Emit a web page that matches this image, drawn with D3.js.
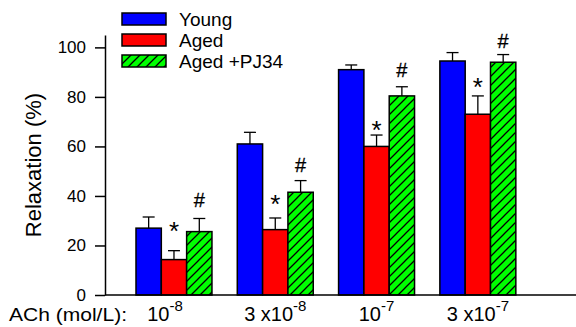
<!DOCTYPE html>
<html>
<head>
<meta charset="utf-8">
<script src="https://cdn.jsdelivr.net/npm/d3@7"></script>
<style>
  body { margin: 0; background: #fff; }
  svg { display: block; font-family: Arial, "Liberation Sans", sans-serif; }
</style>
</head>
<body>
<svg id="chart" width="576" height="327"></svg>
<script>
// data
var groups = ["1e-8", "3e-8", "1e-7", "3e-7"];
var tickBase = ["10", "3 x10", "10", "3 x10"];
var tickExp = ["-8", "-8", "-7", "-7"];
var series = ["Young", "Aged", "Aged +PJ34"];
var young = [27, 61, 91, 94.5];
var youngErr = [4.5, 4.7, 1.9, 3.4];
var aged = [14.3, 26.4, 60, 73];
var agedErr = [3.6, 4.7, 4.6, 7.4];
var pj34 = [25.6, 41.5, 80.4, 94];
var pj34Err = [5.3, 4.7, 3.7, 3.1];
// where the significance marks sit (bottom of glyph, in % units)
var starLevel = [26.7, 37.7, 67.4, 84.8];
var hashLevel = [35.4, 49.6, 88.2, 99.7];
var yTicks = [0, 20, 40, 60, 80, 100];

var values = [young, aged, pj34];
var errors = [youngErr, agedErr, pj34Err];
var colors = ["#0000ff", "#ff0000", "url(#hatch)"];

var svg = d3.select("#chart");

// hatch for the PJ34 bars
var pat = svg.append("defs").append("pattern")
  .attr("id", "hatch")
  .attr("patternUnits", "userSpaceOnUse")
  .attr("width", 9).attr("height", 9);
pat.append("rect").attr("width", 9).attr("height", 9).attr("fill", "#00ff00");
pat.append("path")
  .attr("d", "M0,9 L9,0 M-2,2 L2,-2 M7,11 L11,7")
  .attr("stroke", "#000").attr("stroke-width", 1.3);

var y = d3.scaleLinear().domain([0, 105]).range([295, 35]);

var x = d3.scaleBand()
  .domain(groups)
  .range([105, 576])
  .paddingInner(0.25)
  .paddingOuter(0.45)
  .align(0.34);

var xs = d3.scaleBand().domain(d3.range(series.length)).range([0, x.bandwidth()]);

// y axis
var yAxis = svg.append("g")
  .attr("transform", "translate(105,0)")
  .call(d3.axisLeft(y).tickValues(yTicks).tickSize(10).tickSizeOuter(0).tickPadding(9));
yAxis.selectAll("path, line").attr("stroke", "#000").attr("stroke-width", 1.5);
yAxis.selectAll("text").attr("font-size", 17).attr("fill", "#000")
  .attr("dy", "0.3em")
  .attr("font-family", "Arial, 'Liberation Sans', sans-serif");

svg.append("text")
  .attr("transform", "translate(41,165) rotate(-90)")
  .attr("text-anchor", "middle")
  .attr("font-size", 22)
  .text("Relaxation (%)");

// bars
series.forEach(function (s, si) {
  var g = svg.append("g");
  groups.forEach(function (grp, gi) {
    var bx = x(grp) + xs(si);
    var v = values[si][gi];
    var e = errors[si][gi];
    var cx = bx + xs.bandwidth() / 2;
    g.append("rect")
      .attr("x", bx).attr("y", y(v))
      .attr("width", xs.bandwidth()).attr("height", y(0) - y(v))
      .attr("fill", colors[si])
      .attr("stroke", "#000").attr("stroke-width", 1.5);
    g.append("line")
      .attr("x1", cx).attr("x2", cx)
      .attr("y1", y(v)).attr("y2", y(v + e))
      .attr("stroke", "#000").attr("stroke-width", 1.3);
    g.append("line")
      .attr("x1", cx - 6).attr("x2", cx + 6)
      .attr("y1", y(v + e)).attr("y2", y(v + e))
      .attr("stroke", "#000").attr("stroke-width", 1.3);
    if (si === 1) {
      g.append("text")
        .attr("x", cx).attr("y", y(starLevel[gi]) + 11)
        .attr("text-anchor", "middle").attr("font-size", 26)
        .text("*");
    } else if (si === 2) {
      g.append("text")
        .attr("x", cx).attr("y", y(hashLevel[gi]))
        .attr("text-anchor", "middle").attr("font-size", 20)
        .attr("stroke", "#000").attr("stroke-width", 0.3)
        .text("#");
    }
  });
});

// x axis line
svg.append("line")
  .attr("x1", 105).attr("x2", 576)
  .attr("y1", y(0)).attr("y2", y(0))
  .attr("stroke", "#000").attr("stroke-width", 1.5);

// x labels
svg.append("text")
  .attr("x", 9).attr("y", 321)
  .attr("font-size", 19)
  .attr("textLength", 118)
  .attr("lengthAdjust", "spacingAndGlyphs")
  .text("ACh (mol/L):");

groups.forEach(function (grp, gi) {
  var t = svg.append("text")
    .attr("x", x(grp) + x.bandwidth() / 2 - (gi === 0 ? 9 : 0))
    .attr("y", 321)
    .attr("text-anchor", "middle")
    .attr("font-size", 20);
  t.append("tspan").text(tickBase[gi]);
  t.append("tspan").attr("dy", -10).attr("font-size", 15).text(tickExp[gi]);
});

// legend
var legend = svg.append("g").attr("transform", "translate(122,13)");
series.forEach(function (s, si) {
  var row = legend.append("g").attr("transform", "translate(0," + si * 21 + ")");
  row.append("rect")
    .attr("width", 44).attr("height", 12)
    .attr("fill", colors[si])
    .attr("stroke", "#000").attr("stroke-width", 1.5);
  row.append("text")
    .attr("x", 57).attr("y", 6)
    .attr("dy", "0.35em")
    .attr("font-size", 19)
    .text(s);
});
</script>
</body>
</html>
